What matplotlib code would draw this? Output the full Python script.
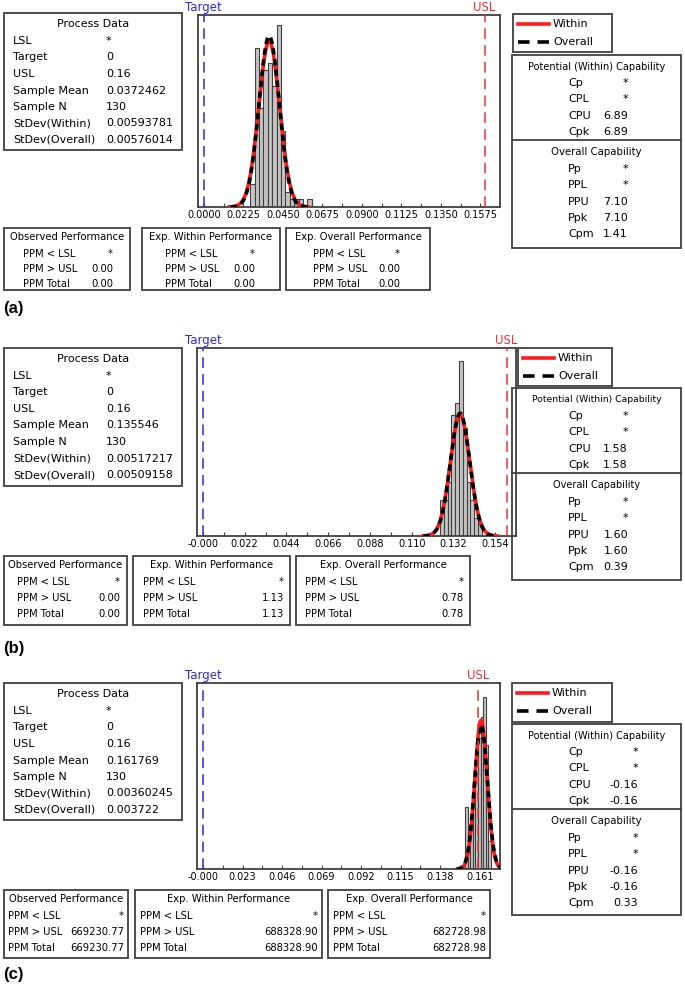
import numpy as np
import matplotlib
matplotlib.use("Agg")
import matplotlib.pyplot as plt
from matplotlib.patches import Rectangle
from matplotlib.lines import Line2D

# === Data ===
panel_names = ["(a)", "(b)", "(c)"]
target = 0.0
usl = 0.16
sample_mean = [0.0372462, 0.135546, 0.161769]
sample_n = [130, 130, 130]
sd_within = [0.00593781, 0.00517217, 0.00360245]
sd_overall = [0.00576014, 0.00509158, 0.003722]
pd_values = [
    ["*", "0", "0.16", "0.0372462", "130", "0.00593781", "0.00576014"],
    ["*", "0", "0.16", "0.135546", "130", "0.00517217", "0.00509158"],
    ["*", "0", "0.16", "0.161769", "130", "0.00360245", "0.003722"],
]
pd_labels = ["LSL", "Target", "USL", "Sample Mean", "Sample N",
             "StDev(Within)", "StDev(Overall)"]

# histogram bins (left edges = start + i*width)
bin_start = [0.0265, 0.125, 0.1525]
bin_width = [0.0025, 0.002, 0.0015]
counts_a = [3, 21, 13, 18, 19, 16, 24, 10, 2, 1, 1, 1, 0, 1, 0]
counts_b = [6, 6, 9, 20, 22, 29, 18, 9, 6, 3, 2]
counts_c = [9, 4, 6, 9, 14, 19, 22, 25, 18, 4]
all_counts = [counts_a, counts_b, counts_c]

tick_step = [0.0225, 0.022, 0.023]
ticks_a = ["0.0000", "0.0225", "0.0450", "0.0675", "0.0900", "0.1125", "0.1350", "0.1575"]
ticks_b = ["-0.000", "0.022", "0.044", "0.066", "0.088", "0.110", "0.132", "0.154"]
ticks_c = ["-0.000", "0.023", "0.046", "0.069", "0.092", "0.115", "0.138", "0.161"]
all_ticks = [ticks_a, ticks_b, ticks_c]

cp_labels = ["Cp", "CPL", "CPU", "Cpk"]
pp_labels = ["Pp", "PPL", "PPU", "Ppk", "Cpm"]
cp_vals = [["*", "*", "6.89", "6.89"], ["*", "*", "1.58", "1.58"], ["*", "*", "-0.16", "-0.16"]]
pp_vals = [["*", "*", "7.10", "7.10", "1.41"], ["*", "*", "1.60", "1.60", "0.39"],
           ["*", "*", "-0.16", "-0.16", "0.33"]]

perf_titles = ["Observed Performance", "Exp. Within Performance", "Exp. Overall Performance"]
perf_labels = ["PPM < LSL", "PPM > USL", "PPM Total"]
obs_ppm = [["*", "0.00", "0.00"], ["*", "0.00", "0.00"], ["*", "669230.77", "669230.77"]]
within_ppm = [["*", "0.00", "0.00"], ["*", "1.13", "1.13"], ["*", "688328.90", "688328.90"]]
overall_ppm = [["*", "0.00", "0.00"], ["*", "0.78", "0.78"], ["*", "682728.98", "682728.98"]]

# === Layout in pixels (x0, y0, x1, y1), y from top ===
W, H = 685, 985
layout = [
    dict(pd=(4, 13, 182, 150), hist=(198, 15, 500, 207), tpx=204, upx=495, ytop=25.3,
         leg=(513, 14, 612, 52), cap=(512, 55, 681, 248), cap_vx=628,
         perf_y=(228, 290), perf_step=15, perf_x=[(4, 130), (142, 280), (286, 430)],
         perf_lx=[23, 165, 313], perf_vx=[113, 255, 400], lab_y=308, cap_fs=7.0),
    dict(pd=(4, 348, 182, 486), hist=(197, 348, 516, 536), tpx=203, upx=510, ytop=31.2,
         leg=(518, 348, 612, 386), cap=(512, 388, 681, 580), cap_vx=628,
         perf_y=(556, 625), perf_step=16, perf_x=[(4, 127), (133, 290), (296, 470)],
         perf_lx=[17, 143, 305], perf_vx=[120, 284, 464], lab_y=648, cap_fs=6.7),
    dict(pd=(4, 683, 182, 820), hist=(197, 683, 500, 869), tpx=203, upx=478, ytop=27.0,
         leg=(512, 683, 612, 722), cap=(512, 724, 681, 915), cap_vx=638,
         perf_y=(890, 958), perf_step=16, perf_x=[(4, 128), (135, 322), (328, 490)],
         perf_lx=[8, 140, 333], perf_vx=[124, 318, 486], lab_y=975, cap_fs=7.0),
]

EDGE = "#404040"
fig = plt.figure(figsize=(W / 100, H / 100), dpi=100)
fig.patch.set_facecolor("white")


def fx(x):
    return x / W


def fy(y):
    return 1 - y / H


def box(x0, y0, x1, y1, lw=1.3):
    fig.patches.append(Rectangle((fx(x0), fy(y1)), (x1 - x0) / W, (y1 - y0) / H,
                                 transform=fig.transFigure, fill=False,
                                 edgecolor=EDGE, lw=lw))


def hline(x0, x1, y, lw=1.3):
    fig.add_artist(Line2D([fx(x0), fx(x1)], [fy(y), fy(y)], transform=fig.transFigure,
                          color=EDGE, lw=lw))


def txt(x, y, s, ha="left", fs=8, **kw):
    fig.text(fx(x), fy(y), s, ha=ha, va="center", fontsize=fs, **kw)


def normal(x, mu, sd):
    return np.exp(-0.5 * ((x - mu) / sd) ** 2) / (sd * np.sqrt(2 * np.pi))


for i, L in enumerate(layout):
    # --- Process Data box ---
    x0, y0, x1, y1 = L["pd"]
    box(x0, y0, x1, y1)
    txt((x0 + x1) / 2, y0 + 11, "Process Data", ha="center")
    for j, (lab, val) in enumerate(zip(pd_labels, pd_values[i])):
        yy = y0 + 28 + j * 16.5
        txt(x0 + 9, yy, lab)
        txt(x0 + 102, yy, val)

    # --- Histogram ---
    hx0, hy0, hx1, hy1 = L["hist"]
    ax = fig.add_axes([fx(hx0), fy(hy1), (hx1 - hx0) / W, (hy1 - hy0) / H])
    scale = (L["upx"] - L["tpx"]) / (usl - target)
    ax.set_xlim(target + (hx0 - L["tpx"]) / scale, target + (hx1 - L["tpx"]) / scale)
    ax.set_ylim(0, L["ytop"])
    counts = all_counts[i]
    bw = bin_width[i]
    edges = bin_start[i] + bw * np.arange(len(counts))
    ax.bar(edges, counts, width=bw, align="edge", color="#c4c4c4",
           edgecolor=EDGE, lw=0.8, zorder=2)

    n = sample_n[i]
    mu = sample_mean[i]
    xs = np.linspace(mu - 3.8 * sd_within[i], mu + 3.8 * sd_within[i], 300)
    ax.plot(xs, n * bw * normal(xs, mu, sd_within[i]), color="#ff1a1a", lw=2.6, zorder=3)
    xs = np.linspace(mu - 3.8 * sd_overall[i], mu + 3.8 * sd_overall[i], 300)
    ax.plot(xs, n * bw * normal(xs, mu, sd_overall[i]), color="black", lw=2.6,
            ls=(0, (1.8, 1.2)), zorder=4)

    ax.axvline(target, color="#2a2ae6", lw=1.1, ls=(0, (7, 4)), zorder=5)
    ax.axvline(usl, color="#f03030", lw=1.1, ls=(0, (7, 4)), zorder=5)
    trans = ax.get_xaxis_transform()
    ax.text(target, 1.005, "Target", color="#2a2ae6", ha="center", va="bottom",
            fontsize=8.5, transform=trans)
    ax.text(usl, 1.005, "USL", color="#f03030", ha="center", va="bottom",
            fontsize=8.5, transform=trans)

    step = tick_step[i]
    ax.set_xticks(step * np.arange(len(all_ticks[i])))
    ax.set_xticklabels(all_ticks[i], fontsize=7)
    ax.set_xticks(step * (np.arange(len(all_ticks[i])) + 0.5), minor=True)
    ax.tick_params(axis="x", which="both", direction="in", length=3, width=0.8,
                   color=EDGE, pad=2)
    ax.set_yticks([])
    for sp in ax.spines.values():
        sp.set_color(EDGE)
        sp.set_linewidth(1.3)

    # --- Legend box ---
    lx0, ly0, lx1, ly1 = L["leg"]
    box(lx0, ly0, lx1, ly1)
    fig.add_artist(Line2D([fx(lx0 + 5), fx(lx0 + 36)], [fy(ly0 + 10)] * 2,
                          transform=fig.transFigure, color="#ff1a1a", lw=2.6))
    fig.add_artist(Line2D([fx(lx0 + 5), fx(lx0 + 36)], [fy(ly0 + 28)] * 2,
                          transform=fig.transFigure, color="black", lw=2.6,
                          ls=(0, (3.2, 2.2))))
    txt(lx0 + 40, ly0 + 10, "Within")
    txt(lx0 + 40, ly0 + 28, "Overall")

    # --- Capability box ---
    cx0, cy0, cx1, cy1 = L["cap"]
    box(cx0, cy0, cx1, cy1)
    hline(cx0, cx1, cy0 + 85)
    cfs = L["cap_fs"]
    txt((cx0 + cx1) / 2, cy0 + 12, "Potential (Within) Capability", ha="center", fs=cfs)
    for j, (lab, val) in enumerate(zip(cp_labels, cp_vals[i])):
        yy = cy0 + 28 + j * 16.3
        txt(cx0 + 56, yy, lab, fs=8)
        txt(L["cap_vx"], yy, val, ha="right", fs=8)
    txt((cx0 + cx1) / 2, cy0 + 97, "Overall Capability", ha="center", fs=cfs + 0.3)
    for j, (lab, val) in enumerate(zip(pp_labels, pp_vals[i])):
        yy = cy0 + 114 + j * 16.3
        txt(cx0 + 56, yy, lab, fs=8)
        txt(L["cap_vx"], yy, val, ha="right", fs=8)

    # --- Performance boxes ---
    py0, py1 = L["perf_y"]
    ppm_sets = [obs_ppm[i], within_ppm[i], overall_ppm[i]]
    st = L["perf_step"]
    for k, (bx0, bx1) in enumerate(L["perf_x"]):
        box(bx0, py0, bx1, py1)
        txt((bx0 + bx1) / 2, py0 + 9.5, perf_titles[k], ha="center", fs=7.2)
        for j, (lab, val) in enumerate(zip(perf_labels, ppm_sets[k])):
            yy = py0 + 26 + j * st
            txt(L["perf_lx"][k], yy, lab, fs=7.2)
            txt(L["perf_vx"][k], yy, val, ha="right", fs=7.2)

    # --- panel label ---
    fig.text(fx(3), fy(L["lab_y"]), panel_names[i], ha="left", va="center",
             fontsize=12, fontweight="bold", family="Liberation Sans")

fig.savefig("out.png", dpi=100, facecolor="white")
